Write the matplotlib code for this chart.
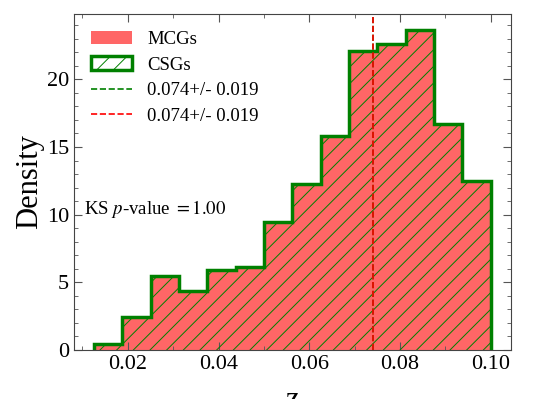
import numpy as np
import matplotlib
matplotlib.use("Agg")
import matplotlib.pyplot as plt
from matplotlib.ticker import MultipleLocator

plt.rcParams["font.family"] = ["Liberation Serif", "DejaVu Serif"]
plt.rcParams["mathtext.fontset"] = "stix"
plt.rcParams["hatch.linewidth"] = 0.7

# histogram bins (z) and densities
bin_edges = np.arange(0.0125, 0.1001, 0.00625)
mcg_density = [0.44, 2.44, 5.48, 4.37, 5.93, 6.17, 9.43,
               12.27, 15.8, 22.1, 22.6, 23.65, 16.67, 12.47]
csg_density = mcg_density  # both samples overlap exactly
mcg_mean, mcg_std = 0.074, 0.019
csg_mean, csg_std = 0.074, 0.019
ks_pvalue = 1.00

fig = plt.figure(figsize=(5.38, 3.99), dpi=100)
ax = fig.add_axes([0.1375, 0.1228, 0.8115, 0.8422])

centers = 0.5 * (bin_edges[:-1] + bin_edges[1:])
ax.hist(centers, bins=bin_edges, weights=mcg_density, color="red", alpha=0.6,
        label="MCGs")
ax.hist(centers, bins=bin_edges, weights=csg_density, histtype="step",
        fill=False, hatch="//", edgecolor="green", lw=2.5, label="CSGs")

ax.axvline(csg_mean, color="green", ls="--", lw=1.2,
           label=f"{csg_mean:.3f}+/- {csg_std:.3f}")
ax.axvline(mcg_mean, color="red", ls="--", lw=1.2,
           label=f"{mcg_mean:.3f}+/- {mcg_std:.3f}")

ax.text(0.023, 0.42, f"KS $p$-value $= {ks_pvalue:.2f}$", transform=ax.transAxes,
        fontsize=13.5, va="center", ha="left")

ax.set_xlabel("z", fontsize=22, labelpad=9)
ax.set_ylabel("Density", fontsize=22, labelpad=2)
ax.xaxis.set_major_locator(MultipleLocator(0.02))
ax.xaxis.set_minor_locator(MultipleLocator(0.01))
ax.yaxis.set_major_locator(MultipleLocator(5))
ax.yaxis.set_minor_locator(MultipleLocator(1))
ax.xaxis.set_major_formatter(plt.FormatStrFormatter("%.2f"))
ax.tick_params(which="both", direction="in", top=True, right=True,
               labelsize=16, color="#555555")
ax.tick_params(which="major", length=6)
ax.tick_params(which="minor", length=3)
for s in ax.spines.values():
    s.set_color("#444444")

ax.legend(loc="upper left", frameon=False, fontsize=13.5, labelspacing=0.45,
          handlelength=2.2, handletextpad=0.8, borderaxespad=0.5)

fig.savefig("out.png", dpi=100)
